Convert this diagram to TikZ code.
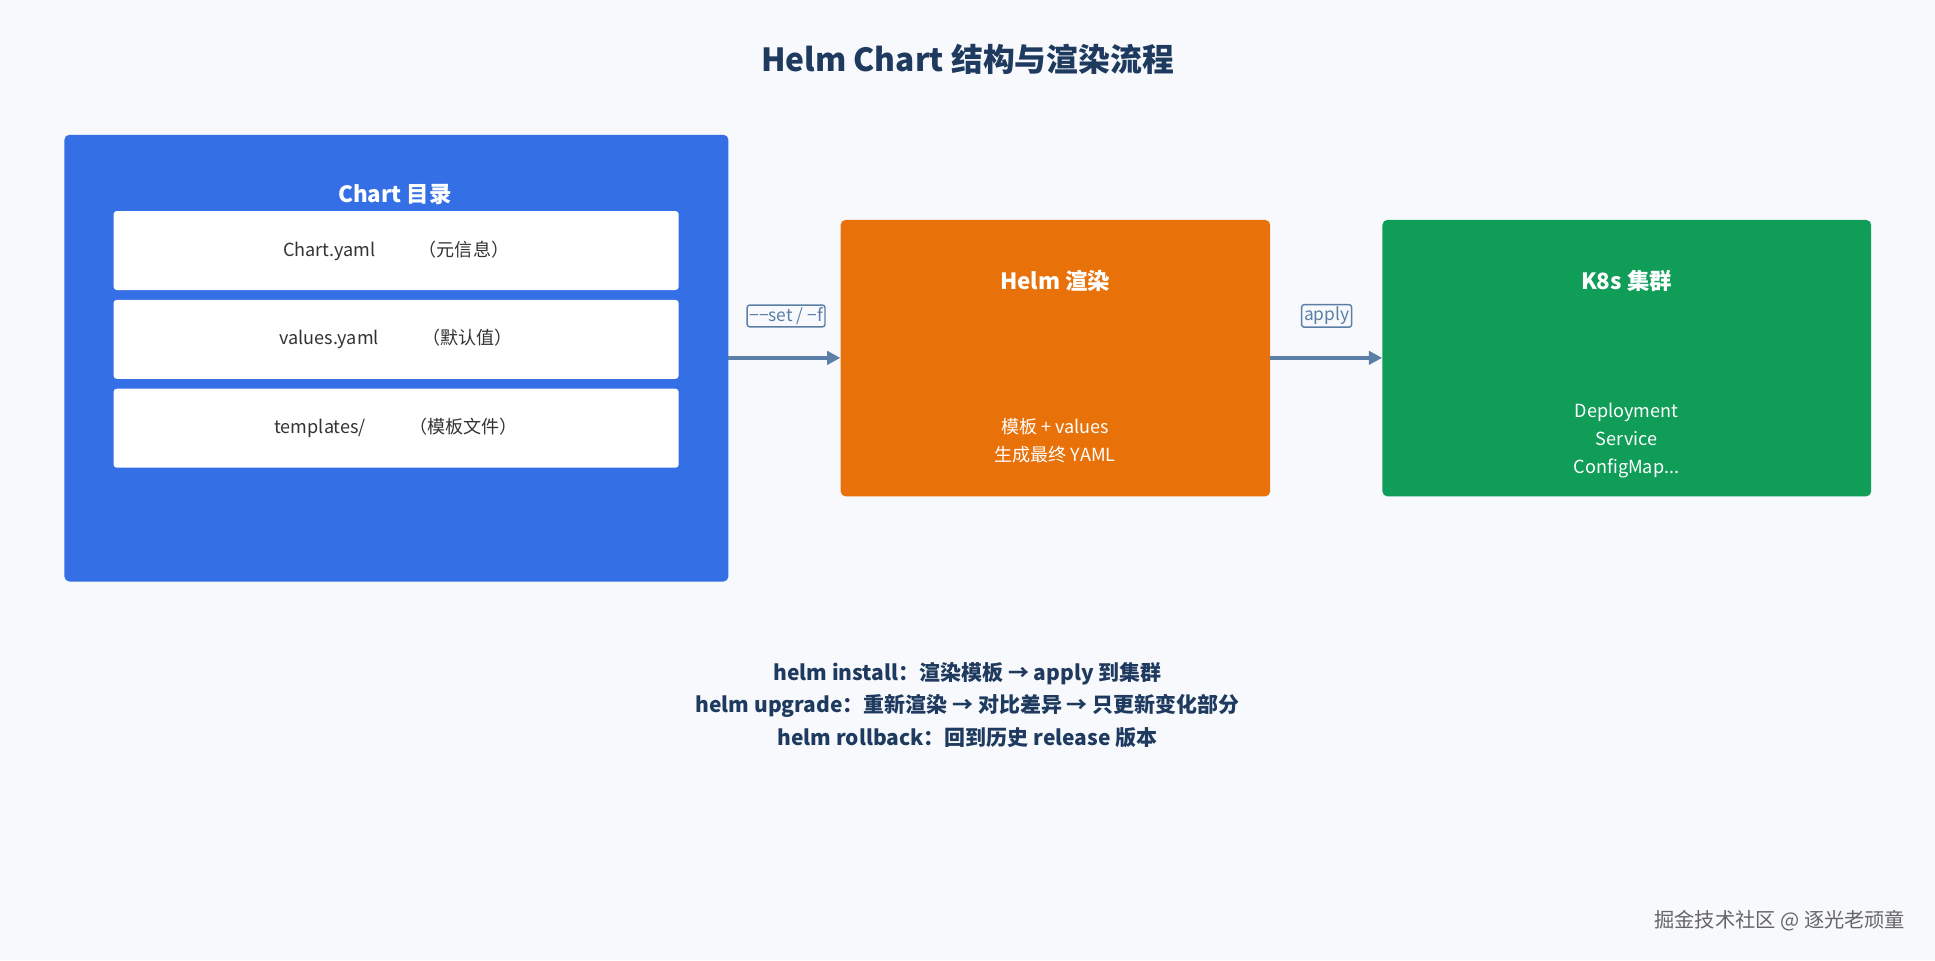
\documentclass[tikz,border=0pt]{standalone}
\usepackage{fontspec}
\setmainfont{Noto Sans CJK SC}
\usetikzlibrary{arrows.meta}
\definecolor{bg}{HTML}{F7F9FC}
\definecolor{navy}{HTML}{1F3A5F}
\definecolor{cblue}{HTML}{356FE6}
\definecolor{corange}{HTML}{E8710A}
\definecolor{cgreen}{HTML}{0F9D58}
\definecolor{arr}{HTML}{5B7FA6}
\definecolor{txt}{HTML}{333333}
\begin{document}
\begin{tikzpicture}[x=0.3mm,y=-0.3mm,
  box/.style={draw=none,rounded corners=1.2mm},
  wt/.style={text=white,font=\fontsize{15.5}{18}\selectfont\bfseries},
  st/.style={text=white,font=\fontsize{12.5}{19.5}\selectfont,align=center},
  item/.style={fill=white,rounded corners=0.8mm,minimum width=458*0.3mm,minimum height=64*0.3mm,text=txt,font=\fontsize{12.5}{15}\selectfont},
  lab/.style={draw=arr,line width=0.35mm,fill=bg,text=arr,rounded corners=0.6mm,inner sep=1.6pt,font=\fontsize{12}{14}\selectfont},
  con/.style={draw=arr,line width=1mm,-{Triangle[length=3.2mm,width=3.2mm]}}]
\fill[bg] (0,0) rectangle (1568,778);
\useasboundingbox (0,0) rectangle (1568,778);
\node[text=navy,font=\fontsize{22}{26}\selectfont\bfseries] (title) at (784,48) {Helm Chart 结构与渲染流程};
\node[box,fill=cblue,minimum width=538*0.3mm,minimum height=362*0.3mm,anchor=north west] (chart) at (52,109) {};
\node[wt] (ct) at (320,158) {Chart 目录};
\node[item] (i1) at (321,203) {Chart.yaml\hspace{2.4em}（元信息）};
\node[item] (i2) at (321,275) {values.yaml\hspace{2.4em}（默认值）};
\node[item] (i3) at (321,347) {templates/\hspace{2.4em}（模板文件）};
\node[box,fill=corange,minimum width=348*0.3mm,minimum height=224*0.3mm,anchor=north west] (helm) at (681,178) {};
\node[wt] (ht) at (855,228) {Helm 渲染};
\node[st] (hs) at (855,357) {模板 + values\\生成最终 YAML};
\node[box,fill=cgreen,minimum width=396*0.3mm,minimum height=224*0.3mm,anchor=north west] (k8s) at (1120,178) {};
\node[wt] (kt) at (1318,228) {K8s 集群};
\node[st] (ks) at (1318,357) {Deployment\\Service\\ConfigMap...};
\coordinate (a1) at (590,290); \coordinate (b1) at (681,290);
\coordinate (a2) at (1029,290); \coordinate (b2) at (1120,290);
\draw[con] (a1) -- (b1);
\draw[con] (a2) -- (b2);
\node[lab] (l1) at (637,256) {−−set / −f};
\node[lab] (l2) at (1075,256) {apply};
\node[text=navy,font=\fontsize{14.5}{22.5}\selectfont\bfseries,align=center] (foot) at (784,571) {helm install：渲染模板 → apply 到集群\\helm upgrade：重新渲染 → 对比差异 → 只更新变化部分\\helm rollback：回到历史 release 版本};
\node[text=gray!80!black,font=\fontsize{14}{17}\selectfont,anchor=east] (wm) at (1548,746) {掘金技术社区 @ 逐光老顽童};
\end{tikzpicture}
\end{document}
